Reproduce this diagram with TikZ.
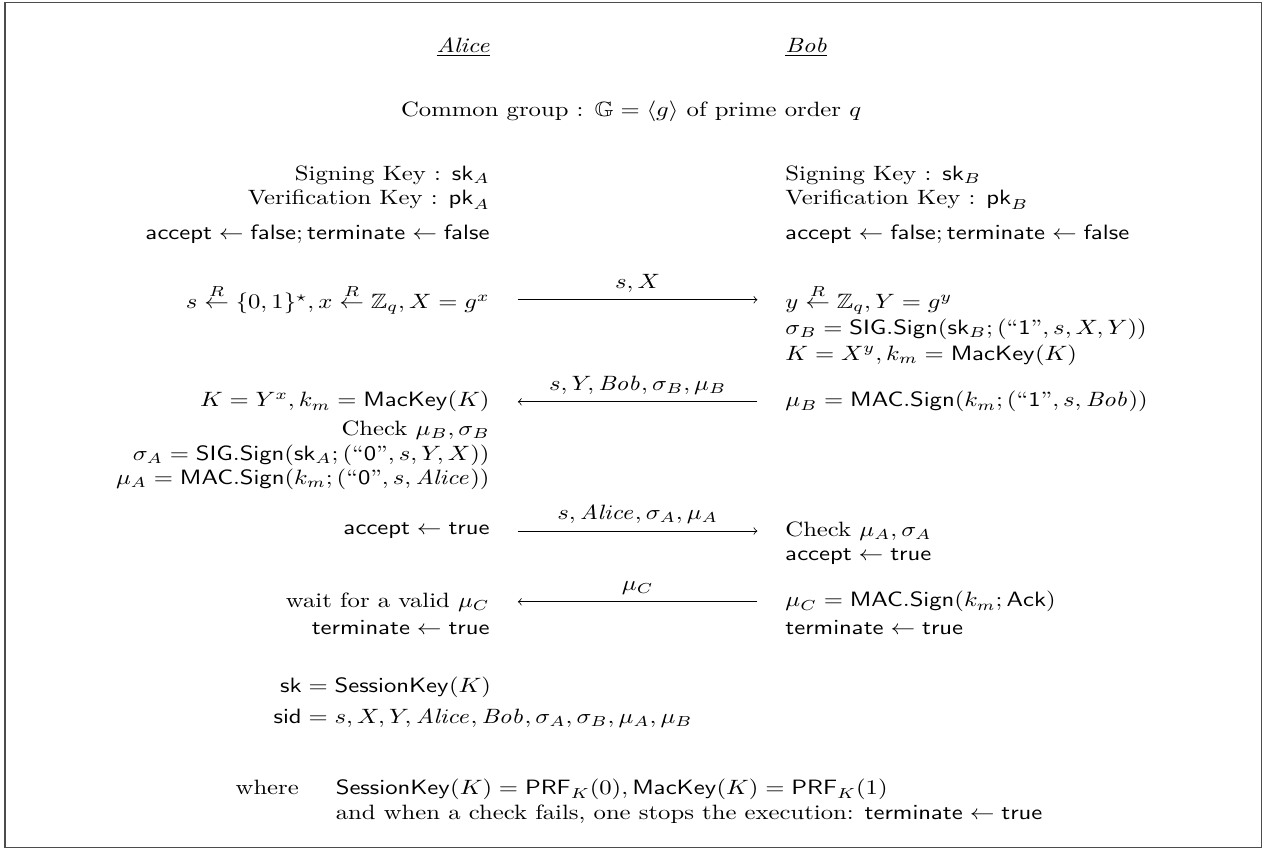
\documentclass[tikz,border=0pt]{standalone}
\usepackage{amsmath}
\usepackage{amssymb}
\usepackage{tikz}
\usetikzlibrary{positioning}
\usetikzlibrary{%
  calc,%
  arrows%
}

\begin{document}
\begin{tikzpicture}[xscale=1.19, every node/.style={transform shape},
                    alice/.style={anchor=east, inner sep=0pt},
                    bob/.style={anchor=west, inner sep=0pt},
                    msg/.style={shorten <=0.47cm, shorten >=0.47cm}]
\useasboundingbox (0,0) rectangle (18.046,-14.407);
\draw[black!70, line width=0.6pt] (0.07,-0.04) rectangle (17.97,-14.37);

\node[alice] (al) at (6.98,-0.80) {\underline{\textit{Alice}}};
\node[bob] (bo) at (11.18,-0.80) {\underline{\textit{Bob}}};
\node (gr) at (8.99,-1.88) {Common group : $\mathbb{G} = \langle g \rangle$ of prime order $q$};

% Alice
\node[alice] (a1) at (6.98,-2.97) {Signing Key : $\mathsf{sk}_A$};
\node[alice] (a2) at (6.98,-3.39) {Verification Key : $\mathsf{pk}_A$};
\node[alice] (a3) at (6.98,-3.97) {$\mathsf{accept} \leftarrow \mathsf{false}; \mathsf{terminate} \leftarrow \mathsf{false}$};
\node[alice] (a4) at (6.98,-5.08) {$s \overset{R}{\leftarrow} \{0,1\}^\star, x \overset{R}{\leftarrow} \mathbb{Z}_q, X = g^x$};
\node[alice] (a5) at (6.98,-6.81) {$K = Y^x, k_m = \mathsf{MacKey}(K)$};
\node[alice] (a6) at (6.98,-7.29) {Check $\mu_B, \sigma_B$};
\node[alice] (a7) at (6.98,-7.71) {$\sigma_A = \mathsf{SIG.Sign}(\mathsf{sk}_A; (\text{``\textsf{0}''}, s, Y, X))$};
\node[alice] (a8) at (6.98,-8.12) {$\mu_A = \mathsf{MAC.Sign}(k_m; (\text{``\textsf{0}''}, s, \mathit{Alice}))$};
\node[alice] (a9) at (6.98,-9.00) {$\mathsf{accept} \leftarrow \mathsf{true}$};
\node[alice] (a10) at (6.98,-10.20) {wait for a valid $\mu_C$};
\node[alice] (a11) at (6.98,-10.63) {$\mathsf{terminate} \leftarrow \mathsf{true}$};

% Bob
\node[bob] (b1) at (11.18,-2.97) {Signing Key : $\mathsf{sk}_B$};
\node[bob] (b2) at (11.18,-3.39) {Verification Key : $\mathsf{pk}_B$};
\node[bob] (b3) at (11.18,-3.97) {$\mathsf{accept} \leftarrow \mathsf{false}; \mathsf{terminate} \leftarrow \mathsf{false}$};
\node[bob] (b4) at (11.18,-5.08) {$y \overset{R}{\leftarrow} \mathbb{Z}_q, Y = g^y$};
\node[bob] (b5) at (11.18,-5.58) {$\sigma_B = \mathsf{SIG.Sign}(\mathsf{sk}_B; (\text{``\textsf{1}''}, s, X, Y))$};
\node[bob] (b6) at (11.18,-6.02) {$K = X^y, k_m = \mathsf{MacKey}(K)$};
\node[bob] (b7) at (11.18,-6.81) {$\mu_B = \mathsf{MAC.Sign}(k_m; (\text{``\textsf{1}''}, s, \mathit{Bob}))$};
\node[bob] (b8) at (11.18,-9.00) {Check $\mu_A, \sigma_A$};
\node[bob] (b9) at (11.18,-9.44) {$\mathsf{accept} \leftarrow \mathsf{true}$};
\node[bob] (b10) at (11.18,-10.20) {$\mu_C = \mathsf{MAC.Sign}(k_m; \mathsf{Ack})$};
\node[bob] (b11) at (11.18,-10.63) {$\mathsf{terminate} \leftarrow \mathsf{true}$};

\path [->, msg] (a4) edge node[above]{$s, X$} (b4)
                (b7) edge node[above]{$s, Y, \mathit{Bob}, \sigma_B, \mu_B$} (a5)
                (a9) edge node[above]{$s, \mathit{Alice}, \sigma_A, \mu_A$} (b8)
                (b10) edge node[above]{$\mu_C$} (a10);

\node[anchor=west, inner sep=0pt] (ks) at (3.89,-11.92) {$\begin{aligned}
  \mathsf{sk} &= \mathsf{SessionKey}(K) \\
  \mathsf{sid} &= s, X, Y, \mathit{Alice}, \mathit{Bob}, \sigma_A, \sigma_B, \mu_A, \mu_B
  \end{aligned}$};

\node[anchor=west, inner sep=0pt] (wh) at (3.35,-13.60) {\begin{tabular}{@{}l@{\hspace{15pt}}l@{}}
  where & $\mathsf{SessionKey}(K) = \mathsf{PRF}_K(0), \mathsf{MacKey}(K) = \mathsf{PRF}_K(1)$ \\
        & and when a check fails, one stops the execution: $\mathsf{terminate} \leftarrow \mathsf{true}$
  \end{tabular}};
\end{tikzpicture}
\end{document}
